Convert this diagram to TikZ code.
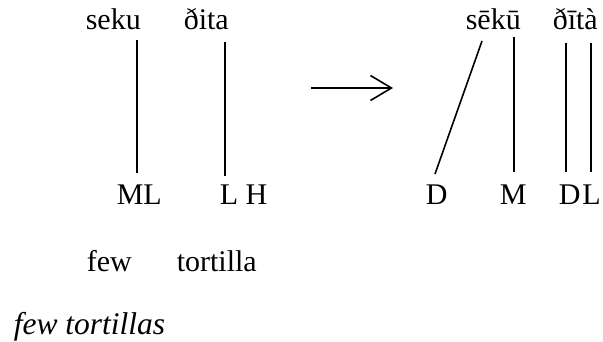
\documentclass[tikz,border=0pt]{standalone}
\usepackage{fontspec}
\setmainfont{Liberation Serif}
\usetikzlibrary{arrows.meta}

\begin{document}
\begin{tikzpicture}[x=1pt, y=-1pt, line width=1.6pt,
    word/.style={anchor=base west, inner sep=0pt, font=\fontsize{30}{31}\selectfont}]
    \useasboundingbox (0,0) rectangle (603,342);
    % Below nodes are the words and tones.
        \node[word] (seku) at (85,30) {seku};
        \node[word] (dita) at (183,30) {ðita};
        \node[word] (ML) at (116,205) {ML};
        \node[word] (LH) at (219,205) {L H};
        \node[word] (sekuNew) at (465,30) {sēkū};
        \node[word] (ditaNew) at (552,30) {ðītà};
        \node[word] (D) at (425,205) {D};
        \node[word] (M) at (499,205) {M};
        \node[word] (DL) at (558,205) {D\kern2pt L};
        \node[word] (few) at (86,272) {few};
        \node[word] (tortilla) at (176,272) {tortilla};
        \node[word, font=\fontsize{31.5}{32}\selectfont\itshape] (gloss) at (13,334) {few tortillas};
    % These are the ends of the association lines.
        \coordinate (a1) at (137,40);  \coordinate (a2) at (137,173);
        \coordinate (b1) at (225,42);  \coordinate (b2) at (225,176);
        \coordinate (c1) at (482,41);  \coordinate (c2) at (435,174);
        \coordinate (d1) at (514,37);  \coordinate (d2) at (514,172);
        \coordinate (e1) at (566,43);  \coordinate (e2) at (566,172);
        \coordinate (f1) at (591,43);  \coordinate (f2) at (591,172);
        \coordinate (arrL) at (311,88); \coordinate (arrR) at (393,88);
    % This draws the lines.
        \draw (a1) -- (a2);
        \draw (b1) -- (b2);
        \draw (c1) -- (c2);
        \draw (d1) -- (d2);
        \draw (e1) -- (e2);
        \draw (f1) -- (f2);
        \draw[-{Straight Barb[length=21pt, width=25pt]}] (arrL) -- (arrR);
\end{tikzpicture}
\end{document}
